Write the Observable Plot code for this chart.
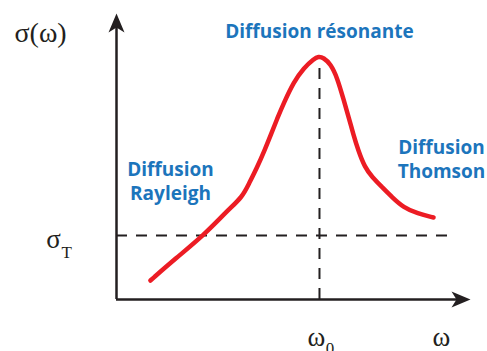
<!DOCTYPE html>
<html><head><meta charset="utf-8">
<script src="https://cdn.jsdelivr.net/npm/d3@7"></script>
<script src="https://cdn.jsdelivr.net/npm/@observablehq/plot@0.6"></script>
<style>body{margin:0;background:#fff}</style>
</head><body><div id="chart"></div>
<script>
// Curve (ω in units of ω0, σ in units of σT)
const omega = [0.167, 0.291, 0.429, 0.547, 0.619, 0.652, 0.693, 0.729, 0.762, 0.792, 0.824, 0.873, 0.923, 0.972, 0.995,
               1.020, 1.054, 1.087, 1.120, 1.144, 1.166, 1.191, 1.223, 1.260, 1.309, 1.358, 1.414, 1.483, 1.562];
const sigma = [0.297, 0.641, 1.000, 1.391, 1.598, 1.808, 2.067, 2.328, 2.589, 2.830, 3.070, 3.400, 3.620, 3.760, 3.800,
               3.780, 3.683, 3.473, 3.109, 2.848, 2.589, 2.328, 2.067, 1.911, 1.755, 1.598, 1.438, 1.344, 1.281];

// Reference levels
const omega0 = 1;
const sigmaT = 1;
const sigmaPeak = 3.78;
const omegaMax = 1.744;   // end of ω axis (arrow tip)
const sigmaMax = 4.47;    // end of σ axis (arrow tip)
const dashEnd = 1.645;    // end of σT dashed line

// Region labels
const regionText = ["Diffusion résonante", "Diffusion\nRayleigh", "Diffusion\nThomson"];
const regionOmega = [1.0, 0.266, 1.601];
const regionSigma = [4.20, 1.86, 2.21];

// Math labels
const mathText = ["σ(ω)", "σ", "T", "ω", "0", "ω"];
const mathOmega = [-0.374, -0.310, -0.246, 0.985, 1.052, 1.601];
const mathSigma = [4.17, 0.94, 0.74, -0.59, -0.76, -0.59];
const mathSize = [28, 27, 17, 27, 17, 27];

const curve = omega.map((w, i) => ({w, s: sigma[i]}));
const regions = regionText.map((t, i) => ({t, w: regionOmega[i], s: regionSigma[i]}));
const maths = mathText.map((t, i) => ({t, w: mathOmega[i], s: mathSigma[i], size: mathSize[i]}));

const stealth = {draw(ctx) {
  ctx.moveTo(0, 0); ctx.lineTo(8, 19); ctx.lineTo(0, 14); ctx.lineTo(-8, 19); ctx.closePath();
}};
const ink = "#231f20";

const plot = Plot.plot({
  width: 487, height: 351,
  marginLeft: 116, marginRight: 17, marginTop: 13, marginBottom: 52,
  x: {domain: [0, omegaMax], axis: null},
  y: {domain: [0, sigmaMax], axis: null},
  style: {background: "#fff"},
  marks: [
    Plot.ruleY([sigmaT], {x1: 0, x2: dashEnd, stroke: ink, strokeWidth: 2, strokeDasharray: "11,9"}),
    Plot.ruleX([omega0], {y1: 0, y2: sigmaPeak, stroke: ink, strokeWidth: 2, strokeDasharray: "11,9"}),
    Plot.ruleY([0], {x1: 0, x2: omegaMax - 0.03, stroke: ink, strokeWidth: 2.5}),
    Plot.ruleX([0], {y1: 0, y2: sigmaMax - 0.1, stroke: ink, strokeWidth: 2.5}),
    Plot.dot([{w: 0, s: sigmaMax}], {x: "w", y: "s", symbol: stealth, fill: ink, stroke: "none"}),
    Plot.dot([{w: omegaMax, s: 0}], {x: "w", y: "s", symbol: stealth, rotate: 90, fill: ink, stroke: "none"}),
    Plot.line(curve, {x: "w", y: "s", stroke: "#ec1c24", strokeWidth: 4.5, curve: "basis"}),
    Plot.text(regions, {x: "w", y: "s", text: "t", fill: "#1c75bc", fontSize: 19, fontWeight: "bold",
      fontFamily: "'Open Sans', sans-serif", lineHeight: 1.26, textAnchor: "middle"}),
    Plot.text(maths, {x: "w", y: "s", text: "t", fill: ink, fontSize: "size",
      fontFamily: "'Liberation Serif', serif", textAnchor: "middle"})
  ]
});
document.getElementById("chart").appendChild(plot);
</script>
</body></html>
